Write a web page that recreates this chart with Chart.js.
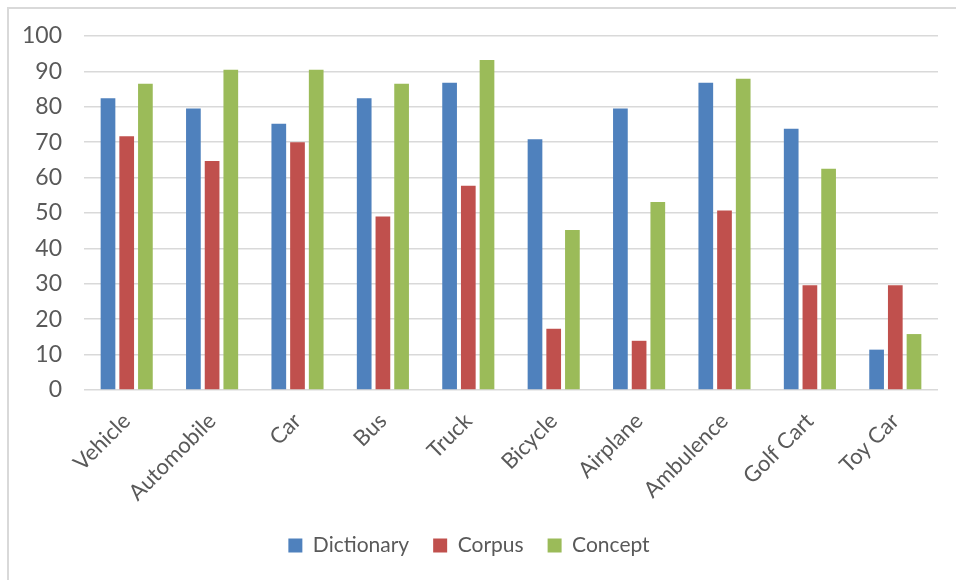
<!DOCTYPE html>
<html>
<head>
<meta charset="utf-8">
<script src="https://cdn.jsdelivr.net/npm/chart.js@4/dist/chart.umd.min.js"></script>
<style>
  html, body { margin: 0; padding: 0; background: #ffffff; overflow: hidden; }
  #frame { position: absolute; left: 7px; top: 7px; width: 1200px; height: 1200px;
           border-top: 2px solid #d9d9d9; border-left: 2px solid #d9d9d9; }
  #wrap { position: absolute; left: 0; top: 0; width: 956px; height: 580px; }
</style>
</head>
<body>
<div id="frame"></div>
<div id="wrap"><canvas id="c" width="956" height="580"></canvas></div>
<script>
const categories = ["Vehicle", "Automobile", "Car", "Bus", "Truck", "Bicycle", "Airplane", "Ambulence", "Golf Cart", "Toy Car"];
const dictionary = [82.4, 79.5, 75.2, 82.4, 86.8, 70.8, 79.5, 86.8, 73.8, 11.4];
const corpus     = [71.7, 64.7, 70.0, 49.0, 57.7, 17.3, 13.9, 50.7, 29.6, 29.6];
const concept    = [86.5, 90.5, 90.5, 86.5, 93.2, 45.2, 53.1, 87.9, 62.5, 15.8];
const yTicks = [0, 10, 20, 30, 40, 50, 60, 70, 80, 90, 100];

const FONT = "Lato, 'Open Sans', sans-serif";
const TXT = "#595959";

new Chart(document.getElementById("c"), {
  type: "bar",
  data: {
    labels: categories,
    datasets: [
      { label: "Dictionary", data: dictionary, backgroundColor: "#4f81bd" },
      { label: "Corpus", data: corpus, backgroundColor: "#c0504d" },
      { label: "Concept", data: concept, backgroundColor: "#9bbb59" }
    ]
  },
  options: {
    responsive: false,
    animation: false,
    devicePixelRatio: 1,
    categoryPercentage: 0.657,
    barPercentage: 0.786,
    layout: { padding: { top: 36, right: 18, left: 0, bottom: 14 } },
    plugins: {
      tooltip: { enabled: false },
      legend: {
        position: "bottom",
        labels: {
          boxWidth: 14, boxHeight: 14, padding: 24,
          color: TXT, font: { family: FONT, size: 21 }
        }
      }
    },
    scales: {
      x: {
        grid: { display: false },
        border: { display: false },
        ticks: {
          color: TXT, font: { family: FONT, size: 22 },
          minRotation: 45, maxRotation: 45, padding: 10
        },
        afterFit: (s) => { s.height = 121; }
      },
      y: {
        min: 0, max: 100,
        afterBuildTicks: (s) => { s.ticks = yTicks.map(v => ({ value: v })); },
        grid: { color: "#d9d9d9", lineWidth: 1.5, drawTicks: false },
        border: { display: false },
        ticks: { color: TXT, font: { family: FONT, size: 23 }, padding: 22 },
        afterFit: (s) => { s.width = 84; }
      }
    }
  }
});
</script>
</body>
</html>
